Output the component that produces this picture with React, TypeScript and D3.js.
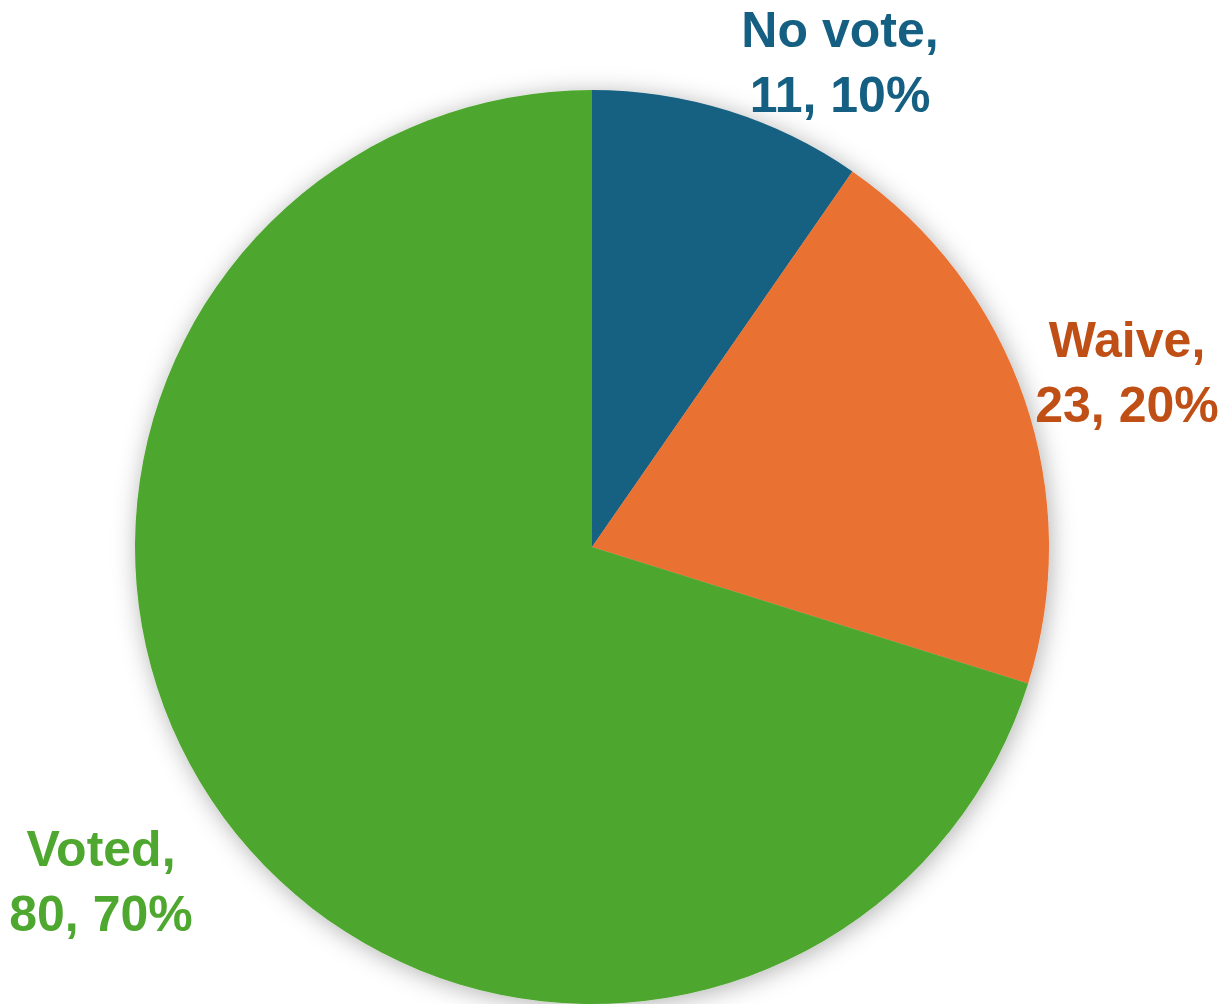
import React from "react";
import * as d3 from "d3";

const categories = ["No vote", "Waive", "Voted"];
const values = [11, 23, 80];
const sliceColors = ["#156082", "#E97132", "#4EA72E"];
const labelColors = ["#156082", "#C04F15", "#4EA72E"];
const labelPos: [number, number][] = [
  [840, 47],
  [1127, 357],
  [101, 866],
];

export default function App() {
  const width = 1224;
  const height = 1004;
  const cx = 592;
  const cy = 547;
  const r = 457;
  const total = d3.sum(values);
  const pie = d3.pie<number>().sort(null).value((d) => d);
  const arcs = pie(values);
  const arc = d3.arc<d3.PieArcDatum<number>>().innerRadius(0).outerRadius(r);
  return (
    <svg
      width={width}
      height={height}
      style={{ position: "absolute", left: 0, top: 0 }}
      fontFamily="'Liberation Sans', Arial, sans-serif"
    >
      <defs>
        <filter id="sh" x="-20%" y="-20%" width="140%" height="140%">
          <feDropShadow dx="2" dy="3" stdDeviation="12" floodColor="#000" floodOpacity="0.3" />
        </filter>
      </defs>
      <rect width={width} height={height} fill="#fff" />
      <g transform={`translate(${cx},${cy})`} filter="url(#sh)">
        {arcs.map((a, i) => (
          <path key={categories[i]} d={arc(a) || ""} fill={sliceColors[i]} />
        ))}
      </g>
      {categories.map((c, i) => (
        <text
          key={c}
          x={labelPos[i][0]}
          y={labelPos[i][1]}
          textAnchor="middle"
          fontSize={50}
          fontWeight="bold"
          fill={labelColors[i]}
        >
          <tspan x={labelPos[i][0]}>{c},</tspan>
          <tspan x={labelPos[i][0]} dy={65}>
            {values[i]}, {Math.round((values[i] / total) * 100)}%
          </tspan>
        </text>
      ))}
    </svg>
  );
}
